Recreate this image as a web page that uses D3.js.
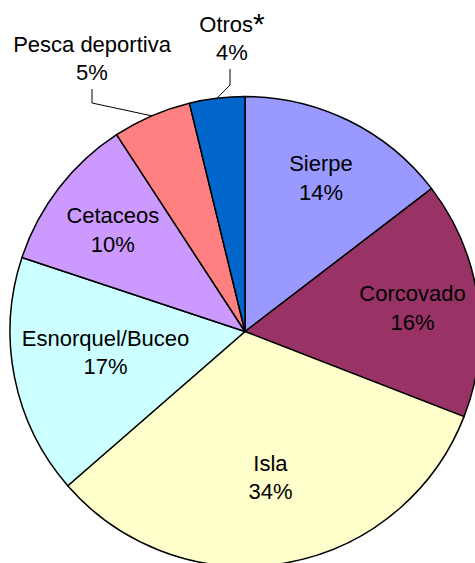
<!DOCTYPE html>
<html>
    <head>
        <script src="https://d3js.org/d3.v7.min.js"></script>
        <style>
         body { margin: 0; background: #fff; }
         svg { display: block; }
         text { font-family: "Liberation Sans", Arial, sans-serif; font-size: 22px; fill: #000; }
        </style>
    </head>
    <body>
        <svg width="475" height="563"></svg>
        <script>
         // data (slice sizes in %, clockwise from 12 o'clock)
         const categories = ["Sierpe", "Corcovado", "Isla", "Esnorquel/Buceo", "Cetaceos", "Pesca deportiva", "Otros"];
         const values = [14.6, 16.3, 32.7, 16.5, 10.7, 5.4, 3.8];
         const pctLabels = ["14%", "16%", "34%", "17%", "10%", "5%", "4%"];
         const colors = ["#9999ff", "#993366", "#ffffcc", "#ccffff", "#cc99ff", "#ff8080", "#0066cc"];

         const svg = d3.select("svg");
         const cx = 245, cy = 331.5, radius = 235;

         const g = svg.append("g").attr("transform", `translate(${cx},${cy})`);

         const pie = d3.pie().sort(null).value(d => d.value);
         const arc = d3.arc().innerRadius(0).outerRadius(radius);

         const rows = categories.map((c, i) => ({name: c, value: values[i], pct: pctLabels[i], color: colors[i]}));
         const arcs = pie(rows);

         g.selectAll("path")
          .data(arcs)
          .join("path")
          .attr("d", arc)
          .attr("fill", d => d.data.color)
          .attr("stroke", "#000")
          .attr("stroke-width", 1.5)
          .attr("stroke-linejoin", "round");

         // label placement: inside labels sit at a fraction of the radius on the mid angle,
         // the two small slices get an outside label with a leader line
         const insideR = {"Sierpe": 0.73, "Corcovado": 0.72, "Isla": 0.63, "Esnorquel/Buceo": 0.6, "Cetaceos": 0.71};
         const angleNudge = {"Esnorquel/Buceo": 0.05};
         const outside = {
             "Pesca deportiva": {x: 92, y: 58, elbow: [92, 103]},
             "Otros": {x: 232, y: 38, elbow: [230, 85]}
         };

         const midAngle = d => (d.startAngle + d.endAngle) / 2;
         const polar = (a, r) => [r * Math.sin(a), -r * Math.cos(a)];

         arcs.forEach(d => {
             let lx, ly;
             if (insideR[d.data.name] !== undefined) {
                 [lx, ly] = polar(midAngle(d) + (angleNudge[d.data.name] || 0), radius * insideR[d.data.name]);
             } else {
                 const o = outside[d.data.name];
                 lx = o.x - cx; ly = o.y - cy;
                 const edge = polar(midAngle(d), radius);
                 g.append("polyline")
                  .attr("points", [[o.elbow[0] - cx, ly + 31], [o.elbow[0] - cx, o.elbow[1] - cy], edge].map(p => p.join(",")).join(" "))
                  .attr("fill", "none")
                  .attr("stroke", "#000")
                  .attr("stroke-width", 1);
             }

             const t = g.append("text").attr("text-anchor", "middle");
             const line1 = t.append("tspan").attr("x", lx).attr("y", ly - 6.5).text(d.data.name);
             if (d.data.name === "Otros") {
                 line1.append("tspan").attr("font-size", "30px").attr("dy", 2).text("*");
             }
             t.append("tspan").attr("x", lx).attr("y", ly + 22).text(d.data.pct);
         });
        </script>
    </body>
</html>
